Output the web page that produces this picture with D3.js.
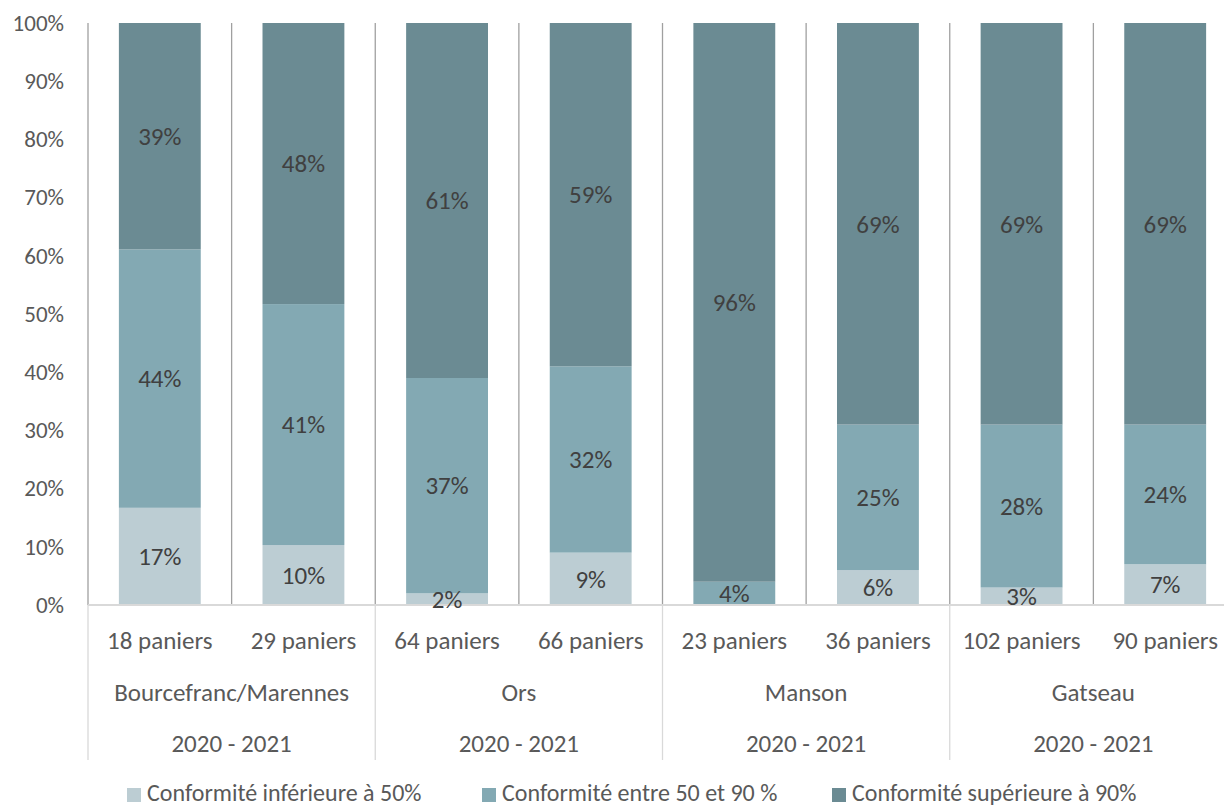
<!DOCTYPE html>
<html>
<head>
<meta charset="utf-8">
<script src="https://cdn.jsdelivr.net/npm/d3@7"></script>
<style>
  body { margin: 0; background: #fff; }
  svg { display: block; font-family: Carlito, Lato, "Open Sans", sans-serif; }
</style>
</head>
<body>
<div id="chart-section"></div>
<script>
// data
var categories = ["18 paniers", "29 paniers", "64 paniers", "66 paniers", "23 paniers", "36 paniers", "102 paniers", "90 paniers"];
var sites = ["Bourcefranc/Marennes", "Ors", "Manson", "Gatseau"];
var periods = ["2020 - 2021", "2020 - 2021", "2020 - 2021", "2020 - 2021"];
var seriesNames = ["Conformité inférieure à 50%", "Conformité entre 50 et 90 %", "Conformité supérieure à 90%"];
var inferieur50 = [16.7, 10.3, 2, 9, 0, 6, 3, 7];
var entre50_90 = [44.4, 41.4, 37, 32, 4, 25, 28, 24];
var superieur90 = [38.9, 48.3, 61, 59, 96, 69, 69, 69];
var yTicks = [0, 0.1, 0.2, 0.3, 0.4, 0.5, 0.6, 0.7, 0.8, 0.9, 1];

var colors = ["#bccdd3", "#83a9b3", "#6b8b93"];

var W = 1224, H = 805;
var margin = {top: 23, left: 88};
var plotRight = 1237;

var svg = d3.select("#chart-section")
  .append("svg")
  .attr("width", W)
  .attr("height", H)
  .style("overflow", "hidden");

var rows = categories.map(function(c, i) {
  return {cat: c, s0: inferieur50[i] / 100, s1: entre50_90[i] / 100, s2: superieur90[i] / 100};
});
var stack = d3.stack().keys(["s0", "s1", "s2"])(rows);

var xscale = d3.scaleBand()
  .domain(categories)
  .range([margin.left, plotRight])
  .paddingInner(0.43)
  .paddingOuter(0.215);
var step = xscale.step();

var yscale = d3.scaleLinear()
  .domain([0, 1])
  .range([605, margin.top]);

// vertical separators inside plot
svg.append("g")
  .selectAll("line")
  .data(d3.range(categories.length + 1))
  .enter()
  .append("line")
  .attr("x1", d => margin.left + d * step)
  .attr("x2", d => margin.left + d * step)
  .attr("y1", yscale(1))
  .attr("y2", yscale(0))
  .attr("stroke", "#a0a0a0")
  .attr("stroke-width", 1.3);

// group separators below the axis
svg.append("g")
  .selectAll("line")
  .data(d3.range(sites.length + 1))
  .enter()
  .append("line")
  .attr("x1", d => margin.left + d * 2 * step)
  .attr("x2", d => margin.left + d * 2 * step)
  .attr("y1", yscale(0))
  .attr("y2", 760)
  .attr("stroke", "#d9d9d9")
  .attr("stroke-width", 1.3);

// bars
svg.append("g")
  .selectAll("g")
  .data(stack)
  .enter()
  .append("g")
  .attr("fill", (d, i) => colors[i])
  .selectAll("rect")
  .data(d => d)
  .enter()
  .append("rect")
  .attr("x", d => xscale(d.data.cat))
  .attr("width", xscale.bandwidth())
  .attr("y", d => yscale(d[1]))
  .attr("height", d => yscale(d[0]) - yscale(d[1]));

// x axis line
svg.append("line")
  .attr("x1", margin.left)
  .attr("x2", plotRight)
  .attr("y1", yscale(0))
  .attr("y2", yscale(0))
  .attr("stroke", "#d9d9d9")
  .attr("stroke-width", 2);

// value labels
svg.append("g")
  .selectAll("g")
  .data(stack)
  .enter()
  .append("g")
  .selectAll("text")
  .data(d => d.filter(p => p[1] - p[0] > 0))
  .enter()
  .append("text")
  .attr("x", d => xscale(d.data.cat) + xscale.bandwidth() / 2)
  .attr("y", d => yscale((d[0] + d[1]) / 2))
  .attr("dy", "0.35em")
  .attr("text-anchor", "middle")
  .attr("font-size", 25)
  .attr("fill", "#404040")
  .text(d => d3.format(".0%")(d[1] - d[0]));

// y axis (labels only)
var yAxis = svg.append("g")
  .attr("transform", "translate(" + margin.left + ",0)")
  .call(d3.axisLeft(yscale).tickValues(yTicks).tickFormat(d3.format(".0%")).tickSize(0).tickPadding(24));
yAxis.select(".domain").remove();
yAxis.selectAll("text")
  .attr("font-size", 23)
  .attr("font-family", "Carlito, Lato, 'Open Sans', sans-serif")
  .attr("fill", "#595959");

// category labels
svg.append("g")
  .selectAll("text")
  .data(categories)
  .enter()
  .append("text")
  .attr("x", d => xscale(d) + xscale.bandwidth() / 2)
  .attr("y", 640)
  .attr("dy", "0.35em")
  .attr("text-anchor", "middle")
  .attr("font-size", 25)
  .attr("fill", "#595959")
  .text(d => d);

// site labels
svg.append("g")
  .selectAll("text")
  .data(sites)
  .enter()
  .append("text")
  .attr("x", (d, i) => margin.left + (2 * i + 1) * step)
  .attr("y", 692)
  .attr("dy", "0.35em")
  .attr("text-anchor", "middle")
  .attr("font-size", 25)
  .attr("fill", "#595959")
  .text(d => d);

// period labels
svg.append("g")
  .selectAll("text")
  .data(periods)
  .enter()
  .append("text")
  .attr("x", (d, i) => margin.left + (2 * i + 1) * step)
  .attr("y", 743)
  .attr("dy", "0.35em")
  .attr("text-anchor", "middle")
  .attr("font-size", 25)
  .attr("fill", "#595959")
  .text(d => d);

// legend
var legendX = [127, 482, 832];
var legend = svg.append("g")
  .selectAll("g")
  .data(seriesNames)
  .enter()
  .append("g")
  .attr("transform", (d, i) => "translate(" + legendX[i] + ",788)");
legend.append("rect")
  .attr("width", 14)
  .attr("height", 14)
  .attr("fill", (d, i) => colors[i]);
legend.append("text")
  .attr("x", 20)
  .attr("y", 13)
  .attr("font-size", 24)
  .attr("fill", "#595959")
  .text(d => d);
</script>
</body>
</html>
